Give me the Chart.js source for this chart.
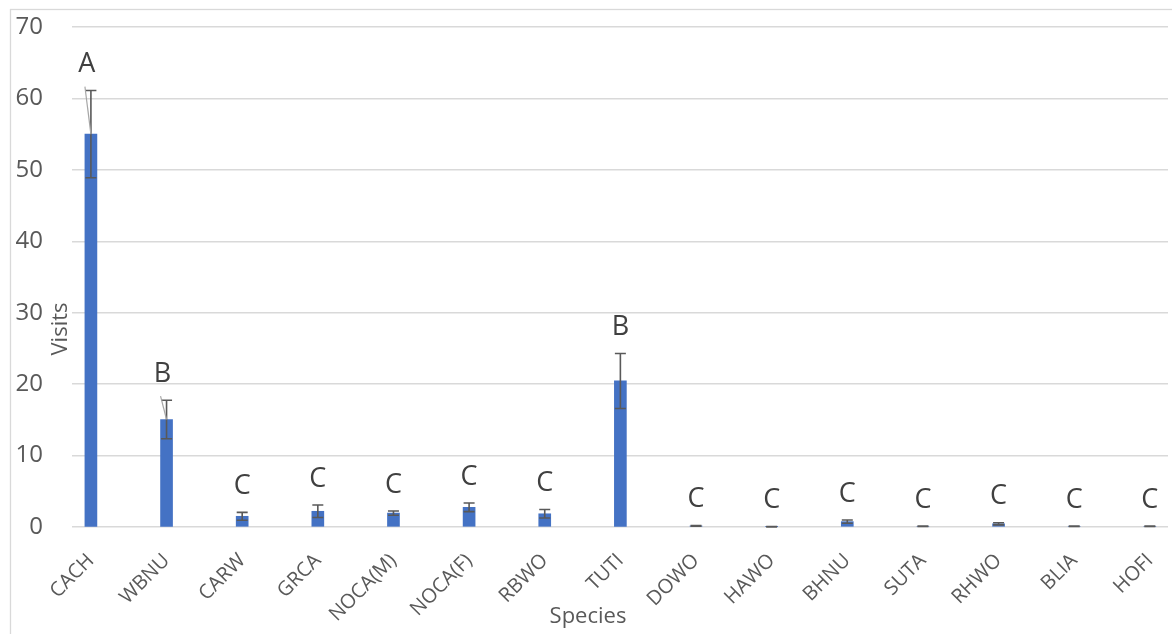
<!DOCTYPE html>
<html>
<head>
<meta charset="utf-8">
<script src="https://cdn.jsdelivr.net/npm/chart.js@4.4.0/dist/chart.umd.min.js"></script>
<style>
html,body{margin:0;padding:0;background:#fff;}
#wrap{width:1172px;height:634px;position:relative;overflow:hidden;}
canvas{display:block;}
</style>
</head>
<body>
<div id="wrap"><canvas id="c" width="1172" height="634"></canvas></div>
<script>
// ---- data ----
const species = ['CACH','WBNU','CARW','GRCA','NOCA(M)','NOCA(F)','RBWO','TUTI','DOWO','HAWO','BHNU','SUTA','RHWO','BLIA','HOFI'];
const visits  = [55.0, 15.05, 1.5, 2.2, 1.95, 2.75, 1.85, 20.45, 0.15, 0.05, 0.75, 0.1, 0.45, 0.1, 0.1];
const stdErr  = [6.1, 2.7, 0.55, 0.87, 0.3, 0.6, 0.6, 3.85, 0.05, 0.03, 0.22, 0.03, 0.15, 0.03, 0.03];
const letters = ['A','B','C','C','C','C','C','B','C','C','C','C','C','C','C'];
const hasLeader = [true,true,false,false,false,false,false,false,false,false,false,false,false,false,false];
const yTicks  = [0,10,20,30,40,50,60,70];
const xTitle = 'Species';
const yTitle = 'Visits';

const FONT = '"Open Sans", "DejaVu Sans", sans-serif';

const frame = {
  id: 'frame',
  beforeDraw(chart) {
    const ctx = chart.ctx;
    ctx.save();
    ctx.fillStyle = '#ffffff';
    ctx.fillRect(0, 0, chart.width, chart.height);
    ctx.strokeStyle = '#d9d9d9';
    ctx.lineWidth = 1.3;
    ctx.strokeRect(10.5, 9.5, 1300, 800);
    ctx.restore();
  }
};

const annot = {
  id: 'annot',
  afterDatasetsDraw(chart) {
    const ctx = chart.ctx;
    const ys = chart.scales.y;
    const meta = chart.getDatasetMeta(0);
    ctx.save();
    meta.data.forEach((bar, i) => {
      const x = bar.x;
      const yTop = ys.getPixelForValue(visits[i] + stdErr[i]);
      const yBot = ys.getPixelForValue(Math.max(0, visits[i] - stdErr[i]));
      // error bar
      ctx.strokeStyle = '#595959';
      ctx.lineWidth = 1.6;
      ctx.beginPath();
      ctx.moveTo(x, yTop); ctx.lineTo(x, yBot);
      ctx.moveTo(x - 5.5, yTop); ctx.lineTo(x + 5.5, yTop);
      ctx.moveTo(x - 5.5, yBot); ctx.lineTo(x + 5.5, yBot);
      ctx.stroke();
      // letter
      const ly = yTop - 26;
      const lx = hasLeader[i] ? x - 4 : x;
      ctx.fillStyle = '#404040';
      ctx.font = '27px ' + FONT;
      ctx.textAlign = 'center';
      ctx.textBaseline = 'middle';
      ctx.fillText(letters[i], lx, ly);
      if (hasLeader[i]) {
        ctx.strokeStyle = '#a6a6a6';
        ctx.lineWidth = 1.2;
        ctx.beginPath();
        ctx.moveTo(x - 6, ly + 22);
        ctx.lineTo(x, bar.y);
        ctx.stroke();
      }
    });
    // axis titles
    ctx.fillStyle = '#595959';
    ctx.font = '22px ' + FONT;
    ctx.textAlign = 'center';
    ctx.textBaseline = 'alphabetic';
    ctx.fillText(xTitle, 588, 623);
    ctx.translate(67, 329);
    ctx.rotate(-Math.PI / 2);
    ctx.fillText(yTitle, 0, 0);
    ctx.restore();
  }
};

new Chart(document.getElementById('c'), {
  type: 'bar',
  data: {
    datasets: [{
      data: visits.map((v, i) => ({ x: i, y: v })),
      backgroundColor: '#4472C4',
      borderWidth: 0,
      barThickness: 12
    }]
  },
  options: {
    responsive: false,
    devicePixelRatio: 1,
    animation: false,
    layout: { padding: { top: 27, right: 4, bottom: 0, left: 0 } },
    plugins: { legend: { display: false }, tooltip: { enabled: false } },
    scales: {
      x: {
        type: 'linear',
        offset: false,
        min: -0.25,
        max: 14.24,
        afterBuildTicks(scale) { scale.ticks = species.map((s, i) => ({ value: i })); },
        afterFit(scale) { scale.height = 107; scale.paddingLeft = 0; scale.paddingRight = 0; },
        grid: { display: false, drawTicks: false, offset: false },
        border: { display: false },
        ticks: {
          autoSkip: false,
          maxRotation: 45,
          minRotation: 45,
          padding: 22,
          color: '#595959',
          font: { family: FONT, size: 20 },
          callback: (v) => species[v]
        }
      },
      y: {
        min: 0,
        max: 70,
        afterBuildTicks(scale) { scale.ticks = yTicks.map(v => ({ value: v })); },
        afterFit(scale) { scale.width = 72; scale.paddingTop = 0; scale.paddingBottom = 0; },
        grid: { color: '#d9d9d9', lineWidth: 1.4, drawTicks: false },
        border: { display: false },
        ticks: {
          padding: 29,
          color: '#595959',
          font: { family: FONT, size: 24 }
        }
      }
    }
  },
  plugins: [frame, annot]
});
</script>
</body>
</html>
